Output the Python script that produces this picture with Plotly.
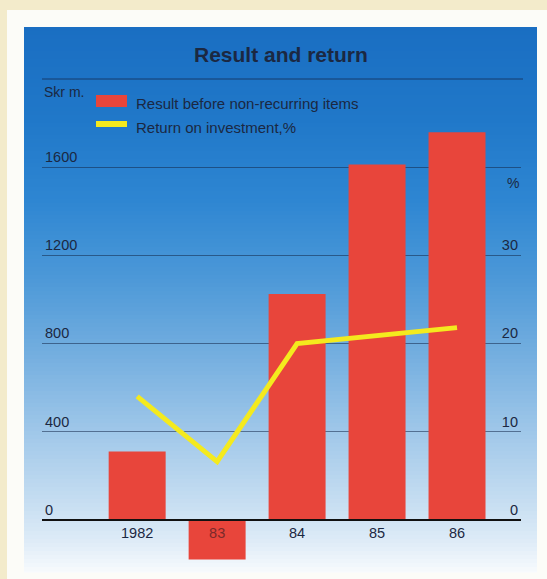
import plotly.graph_objects as go

# Annual figures
years = ["1982", "83", "84", "85", "86"]
result_skr_m = [310, -180, 1025, 1612, 1758]      # Result before non-recurring items, Skr m.
roi_pct = [14.0, 6.6, 20.0, 20.9, 21.8]           # Return on investment, %
left_ticks = [0, 400, 800, 1200, 1600]
right_ticks = [0, 10, 20, 30]

W, H = 547, 579
L, R, T, B = 42, 521, 123, 564          # plot area in pixels

INK = "#1b2842"
RED = "#e8453b"
YELLOW = "#f4ea1e"


def px(x):
    return (x - L) / (R - L)


def py(y):
    return (B - y) / (B - T)


def hexrgb(h):
    h = h.lstrip("#")
    return tuple(int(h[i:i + 2], 16) for i in (0, 2, 4))


# vertical colour ramp of the panel: (pixel y, colour)
stops = [(27, "#1a6ec2"), (120, "#2078c9"), (200, "#2e86d2"), (280, "#4d99d8"),
         (360, "#77b0e0"), (440, "#a4caea"), (500, "#c5ddf1"), (540, "#ddebf7"),
         (572, "#f7fafd")]


def ramp(y):
    for (y0, c0), (y1, c1) in zip(stops, stops[1:]):
        if y0 <= y <= y1:
            t = (y - y0) / (y1 - y0)
            a, b = hexrgb(c0), hexrgb(c1)
            return "rgb(%d,%d,%d)" % tuple(round(a[i] + (b[i] - a[i]) * t) for i in range(3))
    return stops[-1][1]


shapes = []
# white card behind the panel
shapes.append(dict(type="rect", xref="paper", yref="paper", layer="below",
                   x0=px(7), x1=px(W + 2), y0=py(10), y1=py(W + 40),
                   fillcolor="#fcfcf8", line=dict(width=0)))
# blue panel built from thin strips
step = 4
y = 27
while y < 572:
    y2 = min(y + step, 572)
    shapes.append(dict(type="rect", xref="paper", yref="paper", layer="below",
                       x0=px(24), x1=px(537), y0=py(y2 + 0.5), y1=py(y),
                       fillcolor=ramp((y + y2) / 2), line=dict(width=0)))
    y = y2
# rule under the title
shapes.append(dict(type="line", xref="paper", yref="paper",
                   x0=px(42), x1=px(523), y0=py(79), y1=py(79),
                   line=dict(color="rgba(20,35,70,0.7)", width=1)))
# legend keys
shapes.append(dict(type="rect", xref="paper", yref="paper",
                   x0=px(96), x1=px(127), y0=py(107), y1=py(95),
                   fillcolor=RED, line=dict(width=0)))
shapes.append(dict(type="rect", xref="paper", yref="paper",
                   x0=px(96), x1=px(127), y0=py(127), y1=py(121),
                   fillcolor=YELLOW, line=dict(width=0)))

FONT = "Liberation Sans, Arial, sans-serif"
annotations = [
    dict(text="<b>Result and return</b>", x=px(281), y=py(54), xref="paper", yref="paper",
         showarrow=False, font=dict(family=FONT, size=21, color=INK), xanchor="center", yanchor="middle"),
    dict(text="Skr m.", x=px(42), y=py(92), xref="paper", yref="paper",
         showarrow=False, font=dict(family=FONT, size=14, color=INK), xanchor="left", yanchor="middle"),
    dict(text="Result before non-recurring items", x=px(134), y=py(103), xref="paper", yref="paper",
         showarrow=False, font=dict(family=FONT, size=15, color=INK), xanchor="left", yanchor="middle"),
    dict(text="Return on investment,%", x=px(134), y=py(127), xref="paper", yref="paper",
         showarrow=False, font=dict(family=FONT, size=15, color=INK), xanchor="left", yanchor="middle"),
    dict(text="%", x=px(521), y=py(183), xref="paper", yref="paper",
         showarrow=False, font=dict(family=FONT, size=14, color=INK), xanchor="right", yanchor="middle"),
]

tick_text = [y if y != "83" else '<span style="color:#7a2a2a">83</span>' for y in years]

fig = go.Figure()
fig.add_trace(go.Bar(x=years, y=result_skr_m, marker=dict(color=RED, line=dict(width=0)),
                     name="Result before non-recurring items", yaxis="y"))
fig.add_trace(go.Scatter(x=years, y=roi_pct, mode="lines", name="Return on investment,%",
                         line=dict(color=YELLOW, width=5), yaxis="y2"))

fig.update_layout(
    width=W, height=H, autosize=False,
    margin=dict(l=L, r=W - R, t=T, b=H - B, pad=0),
    paper_bgcolor="#f3ebcb", plot_bgcolor="rgba(0,0,0,0)",
    showlegend=False, bargap=0.2875,
    font=dict(family=FONT, color=INK, size=14),
    shapes=shapes, annotations=annotations,
    xaxis=dict(type="category", categoryarray=years, range=[-1.19, 4.8],
               anchor="free", position=(B - 520) / (B - T),
               showline=True, linecolor="#111111", linewidth=2,
               showgrid=False, zeroline=False, ticks="",
               tickvals=years, ticktext=tick_text,
               tickfont=dict(family=FONT, size=14.5, color=INK)),
    yaxis=dict(range=[-200, 1800], tickvals=left_ticks, showgrid=True,
               gridcolor="rgba(20,40,75,0.55)", gridwidth=1, zeroline=False,
               showline=False, ticks="", ticklabelposition="inside top",
               tickfont=dict(family=FONT, size=14.5, color=INK)),
    yaxis2=dict(range=[-5, 45], tickvals=right_ticks, overlaying="y", side="right",
                showgrid=False, zeroline=False, showline=False, ticks="",
                ticklabelposition="inside top",
                tickfont=dict(family=FONT, size=14.5, color=INK)),
)

fig.write_html("out.html")
